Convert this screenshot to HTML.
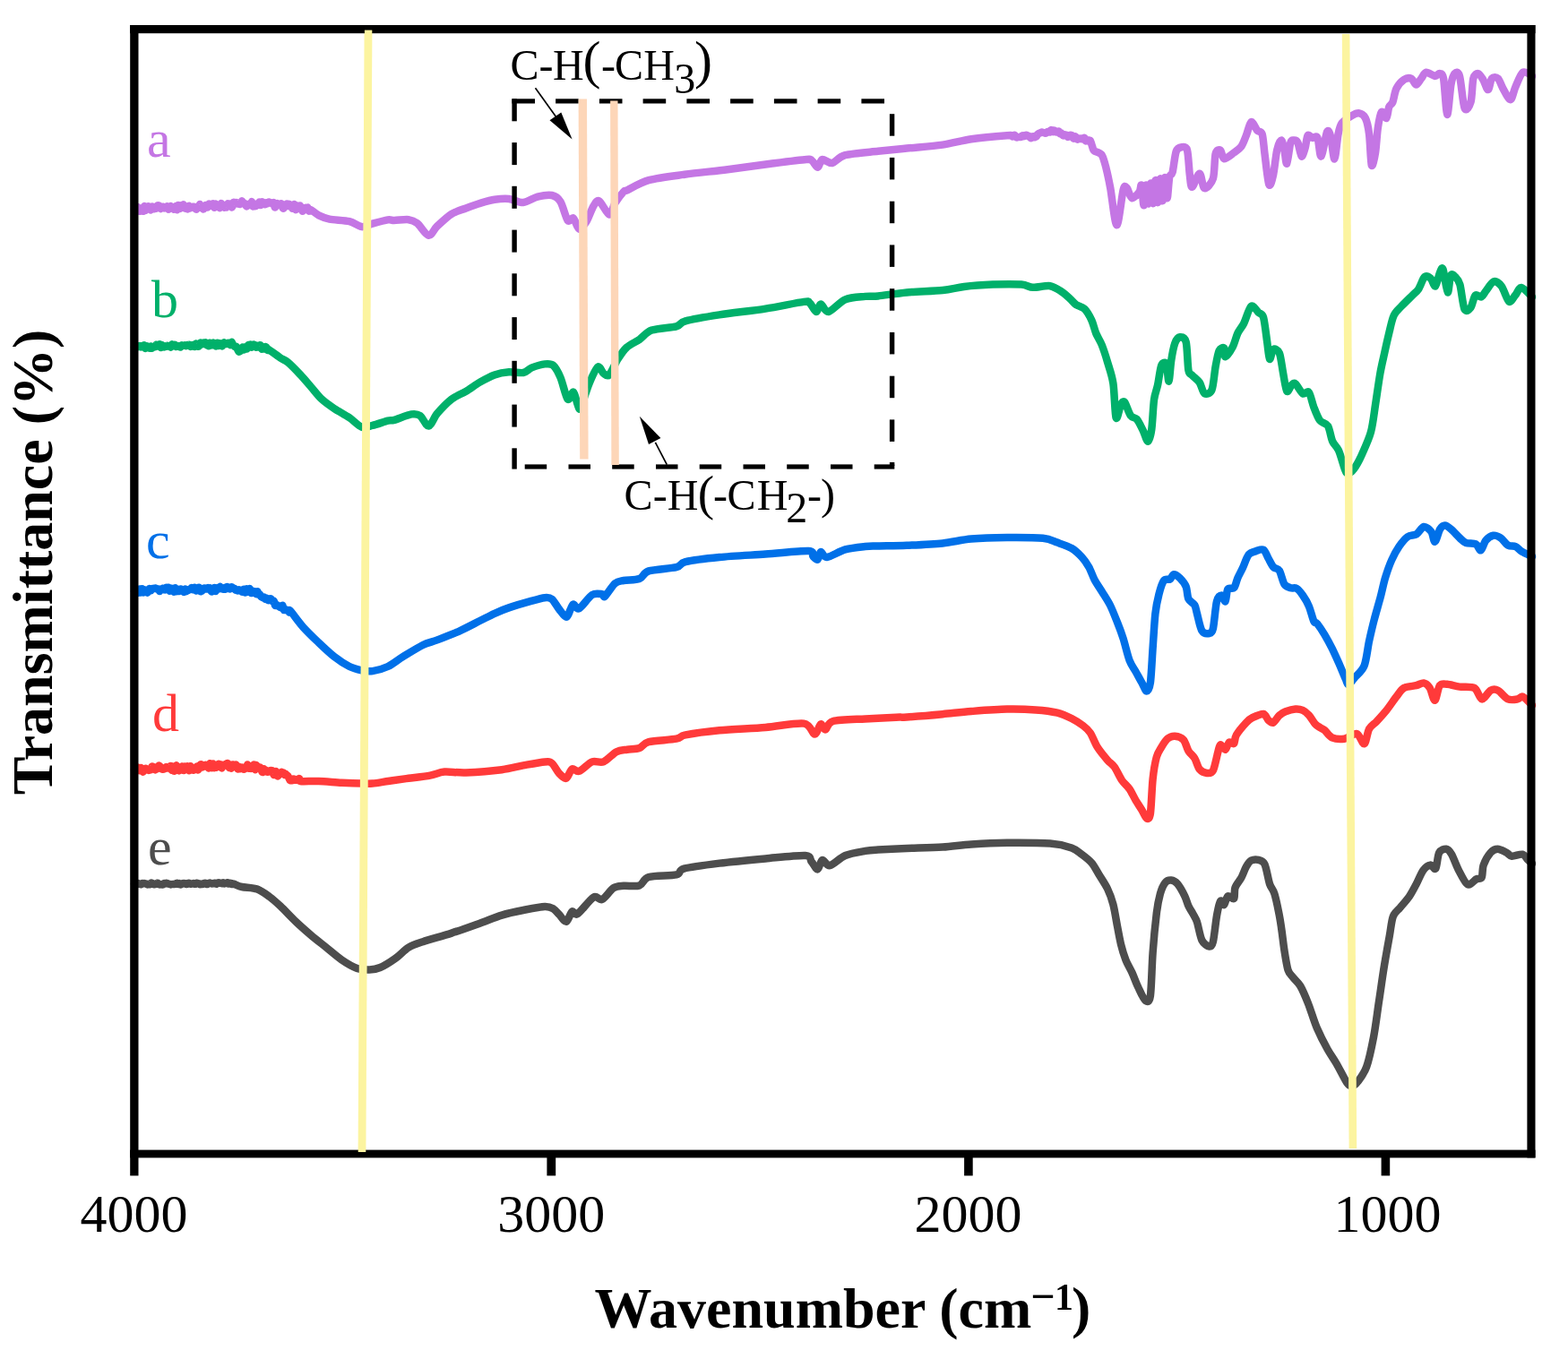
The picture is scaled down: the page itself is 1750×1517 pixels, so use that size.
<!DOCTYPE html>
<html><head><meta charset="utf-8"><title>FTIR</title>
<style>
html,body{margin:0;padding:0;background:#fff;}
body{width:1750px;height:1517px;overflow:hidden;position:relative;}
svg{position:absolute;left:0;top:0;}
text{font-family:"Liberation Serif","Times New Roman",serif;}
</style></head><body>
<svg width="1750" height="1517" viewBox="0 0 1750 1517">
<rect width="1750" height="1517" fill="#fff"/>
<g fill="none" stroke-width="8.5" stroke-linejoin="round" stroke-linecap="round">
<path d="M150.0,233.4C150.2,233.7 150.8,235.7 151.2,235.3C151.6,234.9 152.0,231.6 152.4,231.0C152.8,230.4 153.3,231.2 153.7,231.6C154.1,232.0 154.5,233.3 154.9,233.9C155.3,234.5 155.7,235.9 156.1,235.8C156.5,235.7 156.9,234.0 157.3,233.5C157.7,233.0 158.2,232.1 158.6,232.4C159.0,232.7 159.4,236.1 159.8,235.8C160.2,235.5 160.6,230.2 161.0,230.1C161.4,230.0 161.8,234.7 162.2,234.9C162.6,235.1 163.1,232.2 163.5,231.5C163.9,230.8 164.3,230.7 164.7,230.5C165.1,230.3 165.5,230.2 165.9,230.3C166.3,230.4 166.8,230.8 167.2,231.4C167.6,232.0 168.0,234.5 168.4,234.4C168.8,234.3 169.2,230.7 169.6,230.5C170.0,230.3 170.4,232.5 170.8,232.9C171.2,233.3 171.7,233.3 172.1,233.1C172.5,232.9 172.9,231.6 173.3,231.5C173.7,231.4 174.1,232.8 174.5,232.5C174.9,232.2 175.3,230.0 175.7,229.5C176.1,229.0 176.6,229.3 177.0,229.4C177.4,229.5 177.8,229.7 178.2,230.2C178.6,230.7 179.0,232.8 179.4,233.0C179.8,233.2 180.2,231.7 180.6,231.4C181.0,231.1 181.5,230.6 181.9,230.7C182.3,230.8 182.7,232.2 183.1,232.3C183.5,232.5 183.9,231.8 184.3,231.7C184.7,231.6 185.1,231.6 185.5,231.4C185.9,231.2 186.3,230.1 186.7,230.4C187.1,230.7 187.5,233.0 187.9,233.4C188.3,233.8 188.7,233.3 189.1,232.8C189.5,232.3 189.9,230.1 190.3,230.0C190.7,229.9 191.1,231.8 191.5,232.0C191.9,232.2 192.4,231.3 192.8,231.6C193.2,231.9 193.6,233.5 194.0,233.7C194.4,233.9 194.8,233.3 195.2,232.8C195.6,232.3 196.0,229.9 196.4,230.1C196.8,230.3 197.2,234.5 197.6,234.3C198.0,234.2 198.4,229.6 198.8,229.1C199.2,228.6 199.6,230.2 200.0,230.8C200.4,231.4 200.8,233.0 201.2,232.8C201.6,232.6 202.0,229.4 202.4,229.2C202.8,229.0 203.2,231.3 203.6,231.2C204.0,231.1 204.4,228.2 204.8,228.4C205.2,228.6 205.6,231.6 206.0,232.2C206.4,232.8 206.8,232.8 207.2,232.7C207.6,232.6 208.0,231.4 208.4,231.5C208.8,231.6 209.3,233.5 209.7,233.3C210.1,233.1 210.5,230.1 210.9,229.9C211.3,229.7 211.7,231.9 212.1,232.2C212.5,232.5 212.9,231.7 213.3,231.6C213.7,231.5 214.1,231.5 214.5,231.4C214.9,231.3 215.3,230.8 215.7,230.7C216.1,230.6 216.5,230.6 216.9,230.9C217.3,231.2 217.7,232.5 218.1,232.9C218.5,233.3 219.0,233.8 219.4,233.5C219.8,233.2 220.2,230.9 220.6,230.6C221.0,230.3 221.5,232.1 221.9,231.7C222.3,231.3 222.7,228.1 223.1,228.1C223.5,228.1 224.0,231.4 224.4,231.9C224.8,232.4 225.2,231.3 225.6,231.5C226.0,231.7 226.5,233.3 226.9,233.5C227.3,233.7 227.7,233.1 228.1,232.5C228.5,231.9 229.0,229.6 229.4,229.2C229.8,228.8 230.2,229.5 230.6,229.8C231.0,230.1 231.4,231.7 231.8,231.4C232.2,231.1 232.7,227.7 233.1,227.5C233.5,227.3 233.9,230.0 234.3,230.1C234.7,230.2 235.2,228.6 235.6,228.3C236.0,228.0 236.4,228.0 236.8,227.9C237.2,227.8 237.7,227.0 238.1,227.6C238.5,228.2 238.9,231.8 239.3,231.8C239.7,231.8 240.2,228.4 240.6,227.9C241.0,227.4 241.4,228.4 241.8,228.6C242.2,228.8 242.7,229.2 243.1,229.4C243.5,229.6 243.9,229.6 244.3,230.0C244.7,230.4 245.1,232.5 245.5,232.1C245.9,231.7 246.4,227.6 246.8,227.2C247.2,226.8 247.6,228.9 248.0,229.3C248.4,229.7 248.9,229.4 249.3,229.7C249.7,230.0 250.1,231.4 250.5,231.6C250.9,231.8 251.3,231.1 251.7,231.0C252.1,230.9 252.6,231.7 253.0,231.2C253.4,230.7 253.8,227.9 254.2,227.5C254.6,227.1 255.1,228.2 255.5,228.2C255.9,228.2 256.3,227.3 256.7,227.7C257.1,228.1 257.5,230.2 257.9,230.7C258.3,231.2 258.8,231.7 259.2,231.0C259.6,230.3 260.0,226.8 260.4,226.0C260.8,225.2 261.2,226.0 261.6,226.0C262.0,226.0 262.5,226.2 262.9,226.2C263.3,226.2 263.7,225.9 264.1,226.1C264.5,226.3 265.0,227.3 265.4,227.5C265.8,227.7 266.2,227.3 266.6,227.4C267.0,227.5 267.4,228.2 267.8,228.0C268.2,227.8 268.6,226.6 269.0,226.1C269.4,225.6 269.8,224.3 270.2,224.5C270.6,224.7 271.1,226.8 271.5,227.1C271.9,227.4 272.3,226.7 272.7,226.8C273.1,226.9 273.5,227.5 273.9,228.0C274.3,228.5 274.7,230.3 275.1,230.4C275.5,230.5 275.9,229.2 276.3,228.8C276.7,228.4 277.1,227.8 277.5,227.8C277.9,227.8 278.3,228.3 278.7,228.5C279.1,228.7 279.5,229.4 279.9,228.9C280.3,228.4 280.7,225.0 281.1,225.2C281.5,225.4 282.0,229.6 282.4,230.3C282.8,231.0 283.2,229.6 283.6,229.6C284.0,229.6 284.4,230.2 284.8,230.2C285.2,230.2 285.6,230.2 286.0,229.8C286.4,229.4 286.8,227.7 287.2,227.4C287.6,227.1 288.0,227.8 288.4,227.5C288.8,227.2 289.2,225.5 289.6,225.7C290.0,225.9 290.5,229.0 290.9,229.0C291.3,229.0 291.7,226.1 292.1,225.6C292.5,225.1 292.9,225.5 293.3,225.6C293.7,225.7 294.1,226.1 294.5,226.5C294.9,226.9 295.3,228.3 295.7,228.3C296.1,228.3 296.5,226.5 296.9,226.4C297.3,226.3 297.7,227.6 298.1,227.5C298.5,227.4 299.0,226.2 299.4,225.9C299.8,225.6 300.2,225.5 300.6,225.6C301.0,225.7 301.4,226.5 301.8,226.6C302.2,226.7 302.6,226.2 303.0,226.4C303.4,226.6 303.9,228.0 304.3,228.0C304.7,228.0 305.1,225.6 305.5,226.1C305.9,226.6 306.3,230.7 306.7,231.3C307.1,231.9 307.5,230.4 307.9,229.8C308.3,229.2 308.8,227.4 309.2,227.1C309.6,226.8 310.0,227.6 310.4,227.8C310.8,228.0 311.2,228.3 311.6,228.4C312.0,228.5 312.4,228.8 312.8,228.6C313.2,228.4 313.7,226.8 314.1,227.3C314.5,227.8 314.9,230.9 315.3,231.7C315.7,232.5 316.1,232.9 316.5,232.6C316.9,232.3 317.3,230.0 317.7,229.6C318.1,229.2 318.6,230.0 319.0,229.7C319.4,229.4 319.8,227.4 320.2,227.4C320.6,227.4 321.0,229.9 321.4,230.0C321.8,230.1 322.2,227.9 322.6,227.8C323.0,227.7 323.5,229.3 323.9,229.5C324.3,229.7 324.7,228.7 325.1,229.2C325.5,229.7 325.9,232.8 326.3,232.8C326.7,232.8 327.1,229.7 327.5,229.0C327.9,228.3 328.4,227.6 328.8,228.4C329.2,229.2 329.6,233.6 330.0,234.1C330.4,234.6 330.8,232.5 331.2,231.8C331.6,231.1 332.1,229.6 332.5,229.7C332.9,229.8 333.3,232.3 333.7,232.3C334.1,232.3 334.5,229.4 334.9,229.4C335.3,229.4 335.7,231.7 336.1,232.6C336.5,233.5 337.0,235.1 337.4,235.5C337.8,235.9 338.2,235.2 338.6,235.0C339.0,234.8 339.4,234.7 339.8,234.2C340.2,233.7 340.7,232.0 341.1,231.8C341.5,231.6 341.9,232.7 342.3,232.7C342.7,232.7 343.1,231.3 343.5,231.7C343.9,232.1 344.1,235.1 344.7,235.5C345.3,235.9 345.6,233.6 347.2,234.3C348.8,235.0 352.6,238.8 355.7,240.3C358.8,241.8 362.6,243.6 367.7,244.6C372.8,245.6 384.6,245.8 390.0,247.1C395.4,248.4 399.8,252.7 403.7,253.1C407.6,253.5 411.3,250.9 415.7,249.7C420.1,248.5 429.3,246.0 432.9,245.4C436.5,244.8 436.5,246.0 440.0,246.0C443.5,246.0 452.2,244.7 456.0,245.2C459.8,245.7 462.2,246.6 465.6,249.2C469.0,251.8 475.0,262.3 478.4,262.8C481.8,263.3 484.2,256.0 488.0,252.4C491.8,248.8 499.2,241.8 504.0,238.8C508.8,235.8 515.2,234.2 520.0,232.4C524.8,230.6 531.2,228.2 536.0,226.8C540.8,225.4 547.2,223.5 552.0,222.8C556.8,222.1 563.2,221.5 568.0,222.0C572.8,222.5 579.2,226.4 584.0,226.0C588.8,225.6 595.2,220.8 600.0,219.6C604.8,218.4 612.2,217.2 616.0,218.0C619.8,218.8 623.0,221.0 625.6,225.2C628.2,229.4 631.4,243.2 633.6,246.0C635.8,248.8 638.1,242.2 640.0,243.6C641.9,245.0 644.2,255.0 646.4,255.6C648.6,256.2 652.0,251.4 654.4,247.6C656.8,243.8 660.2,233.5 662.4,230.0C664.6,226.5 666.2,223.0 668.8,224.4C671.4,225.8 677.4,239.2 680.0,239.6C682.6,240.0 684.0,230.6 686.4,226.8C688.8,223.0 694.0,216.2 696.0,214.0C698.0,211.8 695.8,214.3 700.0,212.4C704.2,210.5 714.4,203.8 724.0,201.2C733.6,198.6 750.8,196.6 764.0,194.8C777.2,193.0 797.6,191.0 812.0,189.2C826.4,187.4 846.8,184.5 860.0,182.8C873.2,181.1 893.0,178.5 900.0,178.0C907.0,177.5 904.5,178.3 906.4,179.6C908.3,180.9 911.1,187.0 912.8,186.8C914.5,186.6 915.2,178.7 917.6,178.0C920.0,177.3 925.0,182.7 928.8,182.0C932.6,181.3 935.5,175.2 943.2,173.2C950.9,171.2 969.7,169.9 980.0,168.8C990.3,167.7 1001.2,166.7 1012.0,165.6C1022.8,164.5 1041.2,163.2 1052.0,161.6C1062.8,160.0 1073.2,156.8 1084.0,155.2C1094.8,153.6 1117.3,151.7 1124.0,151.2C1130.7,150.7 1128.0,151.4 1128.9,151.6C1129.8,151.8 1129.7,152.5 1130.1,152.4C1130.5,152.3 1130.9,151.3 1131.3,151.1C1131.7,150.9 1132.1,150.5 1132.5,150.8C1132.9,151.1 1133.3,152.4 1133.7,152.8C1134.1,153.2 1134.6,153.4 1135.0,153.4C1135.4,153.4 1135.8,153.1 1136.2,153.0C1136.6,152.9 1137.0,152.9 1137.4,152.9C1137.8,152.9 1138.2,153.1 1138.6,153.1C1139.0,153.1 1139.4,153.2 1139.8,152.9C1140.2,152.6 1140.6,151.4 1141.0,151.3C1141.4,151.2 1141.9,152.2 1142.3,152.3C1142.7,152.4 1143.1,152.1 1143.5,151.9C1143.9,151.7 1144.3,151.1 1144.7,150.9C1145.1,150.8 1145.5,150.8 1145.9,150.9C1146.3,151.0 1146.7,151.7 1147.1,151.8C1147.5,151.9 1147.9,151.6 1148.3,151.8C1148.7,152.0 1149.2,152.9 1149.6,153.3C1150.0,153.7 1150.4,154.3 1150.8,154.2C1151.2,154.1 1151.6,153.1 1152.0,152.8C1152.4,152.5 1152.8,152.1 1153.2,152.2C1153.6,152.3 1154.0,153.1 1154.4,153.2C1154.8,153.3 1155.2,153.0 1155.6,152.9C1156.0,152.8 1156.4,152.7 1156.8,152.3C1157.2,151.9 1157.6,150.5 1158.0,150.0C1158.4,149.5 1158.8,149.2 1159.2,149.0C1159.6,148.8 1160.0,148.8 1160.4,148.6C1160.8,148.4 1161.2,148.2 1161.6,148.0C1162.0,147.8 1162.4,147.5 1162.8,147.5C1163.2,147.5 1163.6,147.9 1164.0,148.0C1164.4,148.1 1164.9,148.1 1165.3,148.2C1165.7,148.3 1166.2,148.8 1166.6,148.8C1167.0,148.8 1167.4,148.7 1167.8,148.4C1168.2,148.1 1168.7,147.2 1169.1,147.0C1169.5,146.8 1170.0,147.2 1170.4,147.3C1170.8,147.4 1171.3,147.8 1171.7,147.5C1172.1,147.2 1172.6,145.1 1173.0,145.0C1173.4,144.9 1173.8,146.3 1174.2,146.6C1174.6,146.9 1175.1,147.3 1175.5,147.2C1175.9,147.0 1176.4,145.6 1176.8,145.6C1177.2,145.6 1177.6,146.7 1178.0,147.0C1178.4,147.3 1178.9,147.5 1179.3,147.5C1179.7,147.5 1180.1,147.2 1180.5,147.1C1180.9,147.0 1181.4,146.4 1181.8,146.7C1182.2,147.0 1182.6,149.0 1183.0,149.2C1183.4,149.4 1183.9,148.1 1184.3,148.3C1184.7,148.5 1185.1,149.8 1185.5,150.3C1185.9,150.8 1186.4,151.4 1186.8,151.4C1187.2,151.4 1187.6,150.6 1188.0,150.4C1188.4,150.2 1188.8,150.4 1189.2,150.4C1189.6,150.4 1190.1,150.3 1190.5,150.7C1190.9,151.1 1191.3,152.5 1191.7,152.8C1192.1,153.1 1192.5,152.7 1192.9,152.4C1193.3,152.1 1193.8,151.1 1194.2,150.9C1194.6,150.7 1195.0,151.0 1195.4,151.1C1195.8,151.2 1196.2,150.9 1196.6,151.4C1197.0,151.9 1197.4,153.8 1197.8,154.2C1198.2,154.6 1198.7,154.5 1199.1,154.2C1199.5,153.9 1199.9,152.2 1200.3,152.3C1200.7,152.4 1201.1,154.3 1201.5,154.8C1201.9,155.3 1202.4,155.7 1202.8,155.6C1203.2,155.5 1203.6,154.5 1204.0,154.4C1204.4,154.3 1204.9,155.1 1205.3,155.1C1205.7,155.1 1206.2,154.4 1206.6,154.4C1207.0,154.4 1207.4,155.3 1207.8,155.3C1208.2,155.3 1208.7,154.4 1209.1,154.2C1209.5,154.0 1210.0,153.5 1210.4,154.0C1210.8,154.5 1211.3,156.9 1211.7,157.3C1212.1,157.7 1212.6,156.7 1213.0,156.6C1213.4,156.5 1213.8,156.2 1214.2,156.4C1214.6,156.6 1215.1,157.8 1215.5,157.9C1215.9,158.0 1216.4,156.3 1216.8,156.8C1217.2,157.3 1217.9,160.0 1218.4,161.4C1218.9,162.8 1219.5,165.3 1220.0,166.4C1220.5,167.5 1220.0,167.5 1221.4,168.5C1222.8,169.5 1227.6,170.0 1229.6,172.8C1231.5,175.6 1233.0,181.7 1234.4,187.2C1235.8,192.7 1237.4,200.0 1239.2,209.6C1241.0,219.2 1244.2,250.9 1246.4,251.2C1248.6,251.5 1252.0,217.7 1253.7,211.5C1255.4,205.3 1256.4,208.7 1257.8,210.1C1259.2,211.5 1261.2,220.5 1263.3,221.1C1265.4,221.7 1269.9,216.4 1271.5,214.3C1273.1,212.2 1273.2,204.6 1274.0,206.8C1274.8,209.1 1275.8,229.3 1276.6,229.3C1277.4,229.3 1278.4,206.8 1279.2,206.5C1280.0,206.2 1281.0,227.7 1281.8,227.4C1282.6,227.1 1283.6,204.5 1284.4,204.5C1285.2,204.5 1286.2,227.6 1287.0,227.1C1287.8,226.6 1288.8,201.2 1289.6,201.1C1290.4,200.9 1291.4,226.4 1292.2,226.1C1293.0,225.8 1294.0,199.7 1294.8,199.4C1295.6,199.1 1296.6,224.4 1297.4,224.2C1298.2,224.0 1299.2,198.4 1300.0,198.0C1300.8,197.6 1301.8,221.3 1302.6,221.3C1303.4,221.3 1304.3,202.2 1305.2,197.8C1306.1,193.5 1307.5,196.6 1308.6,192.3C1309.7,188.0 1311.2,173.2 1312.7,169.0C1314.2,164.8 1317.1,164.4 1318.9,164.2C1320.7,164.0 1323.7,163.0 1325.0,167.6C1326.3,172.2 1327.0,188.8 1327.8,195.0C1328.6,201.2 1328.8,209.0 1330.5,208.8C1332.2,208.6 1336.7,193.5 1338.8,193.7C1340.9,193.9 1342.0,209.3 1344.3,210.1C1346.6,210.9 1352.1,205.0 1353.9,199.2C1355.7,193.4 1355.4,176.4 1356.6,171.7C1357.8,167.0 1360.7,166.8 1362.1,167.6C1363.5,168.4 1363.9,176.8 1366.2,177.2C1368.5,177.6 1374.3,172.5 1377.2,170.4C1380.1,168.3 1383.3,166.4 1385.4,163.5C1387.5,160.6 1389.2,155.3 1390.9,151.2C1392.6,147.1 1394.6,136.9 1396.4,136.1C1398.2,135.3 1401.4,143.6 1403.2,145.7C1405.0,147.8 1407.5,145.9 1408.7,149.8C1409.9,153.7 1410.4,163.3 1411.5,171.7C1412.6,180.1 1414.9,202.5 1416.3,206.0C1417.7,209.5 1419.8,200.8 1421.1,195.0C1422.4,189.2 1423.9,173.4 1425.2,167.6C1426.5,161.8 1428.8,156.6 1430.0,156.6C1431.2,156.6 1432.5,163.7 1433.4,167.6C1434.3,171.5 1435.2,183.9 1436.2,182.7C1437.2,181.5 1439.1,163.3 1440.3,159.4C1441.5,155.5 1443.2,156.6 1444.4,156.6C1445.6,156.6 1447.3,156.7 1448.5,159.4C1449.7,162.1 1451.4,173.7 1452.6,174.5C1453.8,175.3 1455.7,168.4 1456.7,164.9C1457.7,161.4 1458.3,152.8 1459.5,151.2C1460.7,149.5 1463.3,153.5 1465.0,153.9C1466.7,154.3 1469.1,150.8 1470.5,153.9C1471.9,157.0 1472.9,175.5 1474.5,174.5C1476.1,173.5 1479.5,150.4 1481.1,147.1C1482.7,143.8 1484.0,148.1 1485.2,152.7C1486.4,157.3 1488.2,177.9 1489.4,177.5C1490.6,177.1 1492.3,155.9 1493.5,149.9C1494.7,143.9 1495.4,140.5 1497.7,137.4C1500.0,134.3 1505.8,130.8 1508.7,129.1C1511.6,127.4 1514.7,126.0 1517.0,126.4C1519.3,126.8 1522.2,128.4 1523.9,131.9C1525.6,135.4 1527.1,142.0 1528.1,149.9C1529.1,157.8 1529.8,181.4 1530.8,184.5C1531.8,187.6 1534.0,176.8 1535.0,170.6C1536.0,164.4 1536.8,149.8 1537.8,143.0C1538.8,136.2 1540.5,126.7 1541.9,125.0C1543.3,123.3 1546.2,132.7 1547.4,131.9C1548.6,131.1 1549.2,122.2 1550.2,119.5C1551.2,116.8 1553.2,117.0 1554.4,113.9C1555.6,110.8 1556.6,102.4 1558.5,98.7C1560.4,95.0 1564.3,90.7 1566.8,89.0C1569.3,87.3 1573.0,86.9 1575.1,87.7C1577.2,88.5 1578.9,94.6 1580.6,94.6C1582.3,94.6 1584.5,89.8 1586.2,87.7C1587.9,85.6 1589.4,81.1 1591.7,80.7C1594.0,80.3 1599.1,84.7 1601.4,84.9C1603.7,85.1 1605.4,81.7 1606.9,82.1C1608.4,82.5 1609.9,80.8 1611.1,87.7C1612.3,94.6 1614.0,126.8 1615.2,127.8C1616.4,128.8 1618.2,101.5 1619.4,94.6C1620.6,87.7 1622.1,83.6 1623.5,82.1C1624.9,80.6 1627.3,79.1 1629.0,84.9C1630.7,90.7 1632.7,116.5 1634.6,120.8C1636.5,125.1 1640.0,118.9 1641.5,113.9C1643.0,108.9 1643.1,92.5 1644.3,87.7C1645.5,82.9 1648.1,81.9 1649.8,82.1C1651.5,82.3 1653.6,86.3 1655.3,89.0C1657.0,91.7 1659.3,100.3 1660.8,100.1C1662.3,99.9 1663.3,89.6 1665.0,87.7C1666.7,85.8 1670.0,86.0 1671.9,87.7C1673.8,89.4 1675.3,95.2 1677.4,98.7C1679.5,102.2 1683.6,111.4 1685.7,111.2C1687.8,111.0 1689.2,101.9 1691.3,97.3C1693.4,92.7 1696.8,82.6 1699.6,80.7C1702.4,78.8 1708.4,84.3 1710.0,84.9" stroke="#c476e4"/>
<path d="M150.0,387.4C150.2,387.6 150.8,389.0 151.2,388.8C151.6,388.6 152.0,386.5 152.4,386.1C152.8,385.7 153.3,386.2 153.7,386.2C154.1,386.2 154.5,386.4 154.9,386.4C155.3,386.4 155.7,385.9 156.1,386.1C156.5,386.3 156.9,387.6 157.3,387.6C157.7,387.6 158.2,386.2 158.6,386.1C159.0,386.0 159.4,386.9 159.8,386.8C160.2,386.7 160.6,385.2 161.0,385.5C161.4,385.8 161.8,388.8 162.2,388.9C162.6,389.0 163.1,386.7 163.5,386.4C163.9,386.1 164.3,386.8 164.7,386.9C165.1,387.0 165.5,387.1 165.9,387.4C166.3,387.7 166.8,388.9 167.2,388.8C167.6,388.7 168.0,386.6 168.4,386.6C168.8,386.6 169.2,388.8 169.6,388.8C170.0,388.8 170.4,387.2 170.8,386.9C171.2,386.6 171.7,387.0 172.1,387.0C172.5,387.0 172.9,387.3 173.3,387.0C173.7,386.7 174.1,384.8 174.5,384.7C174.9,384.6 175.3,386.4 175.7,386.5C176.1,386.6 176.6,385.7 177.0,385.4C177.4,385.1 177.8,384.2 178.2,384.6C178.6,385.0 179.0,387.9 179.4,388.0C179.8,388.1 180.2,385.4 180.6,385.2C181.0,385.0 181.5,386.1 181.9,386.5C182.3,386.9 182.7,387.6 183.1,387.6C183.5,387.6 183.9,386.7 184.3,386.6C184.7,386.5 185.1,386.9 185.5,386.8C185.9,386.7 186.4,385.7 186.8,385.7C187.2,385.7 187.6,386.4 188.0,386.5C188.4,386.6 188.8,386.5 189.2,386.6C189.6,386.8 190.1,387.8 190.5,387.5C190.9,387.2 191.3,384.7 191.7,384.5C192.1,384.3 192.5,386.3 192.9,386.4C193.3,386.5 193.8,385.1 194.2,384.9C194.6,384.7 195.0,384.7 195.4,385.0C195.8,385.3 196.2,387.0 196.6,387.1C197.0,387.2 197.5,386.0 197.9,385.9C198.3,385.8 198.7,386.0 199.1,386.1C199.5,386.2 199.9,386.7 200.3,386.9C200.7,387.1 201.1,387.7 201.5,387.5C201.9,387.3 202.4,385.5 202.8,385.3C203.2,385.1 203.6,386.0 204.0,386.0C204.4,386.0 204.8,385.6 205.2,385.5C205.6,385.4 206.1,385.3 206.5,385.4C206.9,385.5 207.3,386.3 207.7,386.2C208.1,386.1 208.5,385.1 208.9,385.0C209.3,384.9 209.8,385.3 210.2,385.3C210.6,385.3 211.0,384.7 211.4,385.0C211.8,385.3 212.2,386.9 212.6,387.0C213.0,387.1 213.5,386.1 213.9,385.8C214.3,385.5 214.7,384.8 215.1,384.9C215.5,385.0 215.9,386.2 216.3,386.5C216.7,386.8 217.1,387.2 217.5,386.8C217.9,386.4 218.3,384.0 218.7,383.7C219.1,383.4 219.5,384.6 219.9,385.0C220.3,385.4 220.7,386.4 221.1,386.6C221.5,386.8 221.9,386.6 222.3,386.1C222.7,385.6 223.1,383.5 223.5,383.0C223.9,382.5 224.3,382.7 224.7,382.9C225.1,383.1 225.5,384.2 225.9,384.2C226.3,384.2 226.7,382.7 227.1,382.6C227.5,382.5 227.9,383.3 228.3,383.3C228.7,383.3 229.1,382.2 229.5,382.5C229.9,382.8 230.3,384.7 230.7,385.1C231.1,385.6 231.5,385.4 231.9,385.5C232.3,385.6 232.7,386.4 233.1,386.0C233.5,385.6 233.9,382.8 234.3,382.7C234.7,382.6 235.1,384.8 235.5,385.1C235.9,385.4 236.3,385.2 236.7,384.8C237.1,384.4 237.5,382.6 237.9,382.5C238.3,382.4 238.7,383.5 239.1,384.0C239.5,384.5 239.9,385.4 240.3,385.7C240.7,386.0 241.1,386.5 241.5,386.1C241.9,385.7 242.3,382.8 242.7,382.8C243.1,382.8 243.5,385.9 243.9,386.0C244.3,386.1 244.8,383.9 245.2,383.6C245.6,383.3 246.0,383.5 246.4,383.9C246.8,384.3 247.2,386.0 247.6,386.2C248.0,386.4 248.4,386.1 248.8,385.5C249.2,384.9 249.6,382.8 250.0,382.5C250.4,382.2 250.8,383.5 251.2,383.7C251.6,383.9 252.0,384.2 252.4,384.1C252.8,384.0 253.2,383.5 253.6,383.3C254.0,383.1 254.5,382.7 254.9,382.7C255.3,382.7 255.7,382.9 256.1,383.2C256.5,383.5 256.9,385.2 257.3,385.0C257.7,384.8 258.1,382.0 258.5,381.9C258.9,381.8 259.3,383.4 259.7,384.0C260.1,384.6 260.7,385.5 261.1,386.0C261.5,386.5 262.1,387.1 262.5,387.2C262.9,387.3 263.4,386.6 263.8,387.0C264.2,387.4 264.8,389.3 265.2,390.1C265.6,390.9 266.2,392.3 266.6,392.6C267.0,392.9 267.6,392.4 268.0,392.1C268.4,391.8 268.9,391.3 269.3,390.6C269.7,389.9 270.3,387.6 270.7,387.6C271.1,387.6 271.6,390.6 272.0,390.6C272.4,390.6 273.0,387.7 273.4,387.4C273.8,387.1 274.2,388.2 274.6,388.5C275.0,388.8 275.5,389.7 275.9,389.2C276.3,388.7 276.7,385.7 277.1,385.2C277.5,384.7 278.0,385.9 278.4,385.8C278.8,385.7 279.2,384.3 279.6,384.6C280.0,384.9 280.5,387.6 280.9,387.7C281.3,387.8 281.7,385.8 282.1,385.3C282.5,384.8 283.0,384.4 283.4,384.5C283.8,384.6 284.2,385.2 284.6,385.7C285.0,386.2 285.5,387.7 285.9,387.7C286.3,387.7 286.7,385.7 287.1,385.7C287.5,385.7 288.0,387.6 288.4,387.6C288.8,387.6 289.2,385.9 289.6,385.6C290.0,385.3 290.5,385.0 290.9,385.6C291.3,386.2 291.7,389.0 292.1,389.4C292.5,389.8 293.0,388.4 293.4,388.4C293.8,388.4 294.2,389.6 294.6,389.4C295.0,389.2 295.5,387.5 295.9,387.2C296.3,386.9 296.7,387.0 297.1,387.5C297.5,388.0 298.0,390.4 298.4,390.8C298.8,391.2 299.2,390.1 299.6,390.1C300.0,390.1 298.9,389.5 300.9,390.9C302.9,392.3 309.8,397.3 312.9,399.4C316.0,401.5 318.1,401.8 321.4,404.6C324.7,407.4 331.3,414.2 335.2,418.3C339.1,422.4 343.6,427.9 347.2,432.0C350.8,436.1 355.3,442.1 359.2,445.7C363.1,449.3 368.3,452.9 372.9,456.0C377.5,459.1 385.4,463.2 390.0,466.3C394.6,469.4 399.8,475.3 403.7,476.6C407.6,477.9 411.3,475.9 415.7,474.9C420.1,473.9 429.3,470.6 432.9,469.7C436.5,468.8 436.1,469.9 440.0,468.8C443.9,467.7 454.9,463.1 459.2,462.4C463.5,461.7 465.9,462.0 468.8,464.0C471.7,466.0 475.5,475.9 478.4,475.5C481.3,475.1 484.2,466.1 488.0,461.6C491.8,457.1 499.2,449.3 504.0,445.6C508.8,441.9 515.2,439.7 520.0,436.8C524.8,433.9 531.2,429.2 536.0,426.4C540.8,423.6 547.2,420.1 552.0,418.4C556.8,416.7 563.2,415.6 568.0,415.2C572.8,414.8 580.2,416.7 584.0,416.0C587.8,415.3 590.0,411.8 593.6,410.4C597.2,409.0 604.4,406.8 608.0,406.4C611.6,406.0 615.0,405.7 617.6,408.0C620.2,410.3 623.2,416.0 625.6,421.6C628.0,427.2 631.4,443.2 633.6,445.6C635.8,448.0 638.3,436.6 640.0,437.6C641.7,438.6 643.6,449.4 644.8,452.0C646.0,454.6 646.1,458.8 648.0,455.2C649.9,451.6 654.7,434.8 657.6,428.0C660.5,421.2 664.8,411.3 667.2,409.6C669.6,407.9 671.7,415.5 673.6,416.8C675.5,418.1 677.6,420.8 680.0,418.4C682.4,416.0 686.7,405.4 689.6,400.8C692.5,396.2 695.6,391.3 699.2,388.0C702.8,384.7 709.5,381.8 713.7,378.9C717.9,376.0 721.2,370.8 727.4,368.6C733.6,366.4 749.2,365.8 754.9,364.3C760.6,362.8 757.9,360.2 765.1,358.3C772.3,356.4 789.5,353.5 802.9,351.4C816.3,349.3 840.2,346.8 854.3,344.6C868.4,342.4 889.7,337.8 897.2,336.9C904.7,336.0 901.9,336.9 904.0,338.6C906.1,340.3 909.1,347.9 910.9,348.0C912.7,348.1 913.9,339.4 916.0,339.4C918.1,339.4 920.5,348.8 924.6,348.0C928.7,347.2 937.2,336.9 943.4,334.3C949.6,331.7 960.2,331.5 965.7,330.9C971.2,330.3 973.1,331.1 980.0,330.4C986.9,329.7 1001.2,327.4 1012.0,326.4C1022.8,325.4 1042.4,325.0 1052.0,324.0C1061.6,323.0 1067.6,321.0 1076.0,320.0C1084.4,319.0 1098.4,318.0 1108.0,317.6C1117.6,317.2 1133.3,317.1 1140.0,317.6C1146.7,318.1 1148.0,320.6 1152.8,320.8C1157.6,321.0 1167.2,318.5 1172.0,319.2C1176.8,319.9 1181.4,323.4 1184.8,325.6C1188.2,327.8 1192.0,331.4 1194.4,333.6C1196.8,335.8 1198.4,338.3 1200.8,340.0C1203.2,341.7 1207.8,342.2 1210.4,344.8C1213.0,347.4 1216.5,353.5 1218.4,357.6C1220.3,361.7 1221.5,367.9 1223.2,372.0C1224.9,376.1 1227.7,380.0 1229.6,384.8C1231.5,389.6 1234.1,397.5 1236.0,404.0C1237.9,410.5 1241.0,418.6 1242.4,428.0C1243.8,437.4 1244.3,462.8 1245.6,466.4C1246.9,470.0 1249.6,454.3 1251.0,451.7C1252.4,449.1 1253.5,447.1 1255.1,448.9C1256.7,450.7 1259.8,461.1 1261.9,464.0C1264.0,466.9 1266.7,465.6 1268.8,468.1C1270.9,470.6 1273.8,476.8 1275.7,480.5C1277.6,484.2 1279.8,493.0 1281.2,492.8C1282.6,492.6 1284.3,486.1 1285.3,479.1C1286.3,472.1 1287.0,453.6 1288.0,446.2C1289.0,438.8 1290.9,435.5 1292.1,429.7C1293.3,423.9 1294.8,411.3 1296.2,407.8C1297.6,404.3 1300.5,403.7 1301.7,406.4C1302.9,409.1 1303.7,426.2 1304.5,425.6C1305.3,425.0 1306.2,408.7 1307.2,402.3C1308.2,395.9 1309.9,387.0 1311.3,383.1C1312.7,379.2 1314.9,376.4 1316.8,376.2C1318.7,376.0 1322.3,376.1 1323.7,381.7C1325.1,387.3 1325.4,407.7 1326.4,413.3C1327.4,418.9 1328.6,416.7 1330.5,418.8C1332.4,420.9 1336.7,423.9 1338.8,427.0C1340.9,430.1 1342.2,438.1 1344.3,439.3C1346.4,440.5 1350.7,439.7 1352.5,435.2C1354.3,430.7 1355.4,415.8 1356.6,409.2C1357.8,402.6 1359.3,394.4 1360.7,391.3C1362.1,388.2 1365.2,387.6 1366.2,388.6C1367.2,389.6 1366.2,398.4 1367.6,398.2C1369.0,398.0 1373.7,391.1 1375.8,387.2C1377.9,383.3 1379.5,376.0 1381.3,372.1C1383.1,368.2 1385.8,365.7 1388.1,361.2C1390.4,356.7 1393.9,343.8 1396.4,341.9C1398.9,340.0 1402.5,346.9 1404.6,348.8C1406.7,350.7 1408.7,349.4 1410.1,354.3C1411.5,359.2 1413.2,374.7 1414.2,381.7C1415.2,388.7 1416.0,399.7 1417.0,400.9C1418.0,402.1 1419.5,391.0 1421.1,390.0C1422.7,389.0 1426.3,390.2 1427.9,394.1C1429.5,398.0 1430.8,409.6 1432.0,416.0C1433.2,422.4 1434.8,434.5 1436.2,436.6C1437.6,438.7 1440.2,430.9 1441.6,429.7C1443.0,428.5 1443.9,427.0 1445.8,428.4C1447.7,429.8 1451.7,437.9 1454.0,439.3C1456.3,440.7 1459.1,435.7 1460.9,438.0C1462.7,440.3 1464.5,449.7 1466.3,454.4C1468.1,459.1 1470.8,466.4 1473.2,469.5C1475.6,472.6 1479.9,471.9 1482.0,475.4C1484.1,478.8 1485.3,488.4 1487.1,492.5C1488.9,496.6 1491.9,498.2 1494.0,502.8C1496.1,507.4 1499.3,519.5 1500.8,523.4C1502.3,527.3 1502.8,528.5 1504.3,528.5C1505.8,528.5 1508.8,526.5 1511.1,523.4C1513.4,520.3 1516.9,514.1 1519.7,507.9C1522.5,501.7 1527.7,490.7 1530.0,482.2C1532.3,473.7 1533.6,461.2 1535.1,451.4C1536.6,441.6 1538.8,425.8 1540.3,417.1C1541.8,408.4 1543.9,400.0 1545.4,393.1C1546.9,386.2 1549.0,377.0 1550.5,370.8C1552.0,364.6 1553.6,356.4 1555.7,352.0C1557.8,347.6 1561.2,345.0 1564.3,341.7C1567.4,338.4 1573.5,332.5 1576.3,329.7C1579.1,326.9 1581.0,325.9 1583.1,322.8C1585.2,319.7 1587.9,310.9 1590.0,309.1C1592.1,307.3 1595.0,309.3 1596.8,310.8C1598.6,312.3 1600.5,320.4 1602.0,319.4C1603.5,318.4 1605.8,306.8 1607.1,304.0C1608.4,301.2 1609.2,297.3 1610.5,300.6C1611.8,303.9 1614.4,325.3 1615.7,326.3C1617.0,327.3 1617.8,310.0 1619.1,307.4C1620.4,304.8 1622.7,307.6 1624.2,309.1C1625.7,310.6 1627.9,312.3 1629.4,317.7C1630.9,323.1 1632.7,341.2 1634.5,345.1C1636.3,349.0 1639.6,345.7 1641.4,343.4C1643.2,341.1 1644.7,331.5 1646.5,329.7C1648.3,327.9 1651.6,332.2 1653.4,331.4C1655.2,330.6 1656.4,327.2 1658.5,324.6C1660.6,322.0 1664.5,315.1 1667.1,314.3C1669.7,313.5 1673.1,316.1 1675.7,319.4C1678.3,322.7 1681.9,335.1 1684.2,336.6C1686.5,338.1 1689.0,332.0 1691.1,329.7C1693.2,327.4 1695.1,320.8 1697.9,321.1C1700.7,321.4 1708.2,329.9 1710.0,331.4" stroke="#00b06a"/>
<path d="M150.0,660.0C150.2,659.7 150.8,657.4 151.2,657.7C151.6,658.0 152.0,661.8 152.4,662.2C152.8,662.6 153.3,660.6 153.7,660.5C154.1,660.4 154.5,661.8 154.9,661.3C155.3,660.8 155.7,657.5 156.1,657.5C156.5,657.5 156.9,661.5 157.3,661.5C157.7,661.5 158.2,657.3 158.6,657.3C159.0,657.3 159.4,661.1 159.8,661.4C160.2,661.7 160.6,659.6 161.0,659.2C161.4,658.8 161.8,658.5 162.2,658.6C162.6,658.7 163.1,659.2 163.5,659.6C163.9,660.0 164.3,661.7 164.7,661.5C165.1,661.3 165.5,658.6 165.9,658.0C166.3,657.4 166.8,657.0 167.2,657.2C167.6,657.4 168.0,659.1 168.4,659.2C168.8,659.3 169.2,658.0 169.6,657.7C170.0,657.4 170.4,657.0 170.8,656.9C171.2,656.8 171.7,657.2 172.1,657.1C172.5,657.0 172.9,656.5 173.3,656.5C173.7,656.5 174.1,657.0 174.5,657.2C174.9,657.4 175.3,657.6 175.7,657.7C176.1,657.8 176.6,657.4 177.0,657.7C177.4,658.0 177.8,660.0 178.2,660.0C178.6,660.0 179.0,657.7 179.4,657.5C179.8,657.3 180.2,658.6 180.6,658.5C181.0,658.4 181.5,656.8 181.9,656.7C182.3,656.6 182.7,657.4 183.1,657.6C183.5,657.8 183.9,658.6 184.3,658.3C184.7,658.0 185.1,656.0 185.5,655.8C185.9,655.6 186.4,657.0 186.8,657.0C187.2,657.0 187.6,655.4 188.0,655.8C188.4,656.2 188.8,659.1 189.2,659.5C189.6,659.9 190.1,659.0 190.5,658.6C190.9,658.2 191.3,656.8 191.7,656.7C192.1,656.6 192.5,657.6 192.9,658.2C193.3,658.8 193.8,660.9 194.2,660.6C194.6,660.3 195.0,656.4 195.4,656.3C195.8,656.2 196.2,659.8 196.6,660.0C197.0,660.2 197.5,658.2 197.9,657.9C198.3,657.6 198.7,658.0 199.1,658.3C199.5,658.6 199.9,660.1 200.3,660.0C200.7,659.9 201.1,658.0 201.5,657.7C201.9,657.4 202.4,658.1 202.8,658.3C203.2,658.5 203.6,658.9 204.0,659.3C204.4,659.7 204.8,661.1 205.2,660.8C205.6,660.5 206.1,657.6 206.5,657.5C206.9,657.4 207.3,659.7 207.7,660.0C208.1,660.3 208.5,659.5 208.9,659.4C209.3,659.2 209.8,659.2 210.2,659.0C210.6,658.8 211.0,658.0 211.4,657.8C211.8,657.6 212.2,657.8 212.6,657.5C213.0,657.2 213.5,655.9 213.9,656.0C214.3,656.1 214.7,658.3 215.1,658.3C215.5,658.3 215.9,656.6 216.3,656.3C216.7,656.0 217.1,655.5 217.5,656.0C217.9,656.5 218.4,659.3 218.8,659.4C219.2,659.5 219.6,657.4 220.0,656.9C220.4,656.4 220.8,656.5 221.2,656.4C221.6,656.2 222.0,655.4 222.4,655.9C222.8,656.4 223.2,659.2 223.6,659.8C224.0,660.4 224.4,660.0 224.8,659.9C225.2,659.8 225.7,659.3 226.1,658.8C226.5,658.3 226.9,657.1 227.3,656.8C227.7,656.5 228.1,656.5 228.5,656.5C228.9,656.5 229.3,656.6 229.7,656.8C230.1,657.0 230.5,657.7 230.9,657.6C231.3,657.5 231.7,656.0 232.1,656.0C232.5,656.0 232.9,657.4 233.3,657.5C233.7,657.6 234.2,656.1 234.6,656.5C235.0,656.9 235.4,659.6 235.8,660.1C236.2,660.6 236.6,660.4 237.0,660.1C237.4,659.8 237.8,658.4 238.2,657.8C238.6,657.2 239.0,655.9 239.4,656.2C239.8,656.5 240.3,659.9 240.7,659.9C241.1,659.9 241.5,657.0 241.9,656.5C242.3,656.0 242.7,656.6 243.1,656.7C243.5,656.8 243.9,657.7 244.3,657.4C244.7,657.1 245.1,655.0 245.5,654.9C245.9,654.8 246.4,656.5 246.8,656.9C247.2,657.3 247.6,657.3 248.0,657.4C248.4,657.5 248.9,657.8 249.3,657.6C249.7,657.4 250.1,656.1 250.5,656.1C250.9,656.1 251.3,657.8 251.7,657.7C252.1,657.6 252.6,655.4 253.0,655.2C253.4,655.0 253.8,656.5 254.2,656.6C254.6,656.7 255.1,655.6 255.5,655.7C255.9,655.8 256.3,657.4 256.7,657.4C257.1,657.4 257.5,655.9 257.9,655.6C258.3,655.3 258.8,655.3 259.2,655.5C259.6,655.7 260.0,656.8 260.4,657.0C260.8,657.2 261.2,656.5 261.6,656.7C262.0,656.9 262.5,658.3 262.9,658.6C263.3,658.9 263.7,658.2 264.1,658.4C264.5,658.5 265.0,659.6 265.4,659.6C265.8,659.6 266.2,658.4 266.6,658.3C267.0,658.2 267.4,659.0 267.8,659.2C268.2,659.4 268.6,659.5 269.0,659.7C269.4,659.9 269.9,660.8 270.3,660.6C270.7,660.4 271.1,658.6 271.5,658.2C271.9,657.8 272.3,657.5 272.7,658.0C273.1,658.5 273.5,661.6 273.9,661.5C274.3,661.4 274.7,657.5 275.1,657.3C275.5,657.1 276.0,660.0 276.4,660.4C276.8,660.8 277.2,660.6 277.6,660.1C278.0,659.6 278.4,656.9 278.8,657.1C279.2,657.3 279.6,660.7 280.0,661.4C280.4,662.1 280.9,661.9 281.3,661.8C281.7,661.7 282.1,660.8 282.5,660.5C282.9,660.2 283.3,659.8 283.7,660.0C284.1,660.2 284.5,661.4 284.9,661.9C285.3,662.4 285.8,663.3 286.2,663.0C286.6,662.7 287.0,660.2 287.4,660.2C287.8,660.2 288.3,662.4 288.7,662.9C289.1,663.4 289.5,663.0 289.9,663.5C290.3,664.0 290.8,665.4 291.2,665.9C291.6,666.4 292.0,666.3 292.4,666.5C292.8,666.7 293.3,667.3 293.7,667.3C294.1,667.3 294.5,666.4 294.9,666.7C295.3,667.0 295.8,668.9 296.2,669.0C296.6,669.1 297.0,667.6 297.4,667.7C297.8,667.8 298.2,669.0 298.6,669.4C299.0,669.8 299.4,670.3 299.8,670.2C300.2,670.1 300.6,668.9 301.0,668.6C301.4,668.3 301.8,668.1 302.2,668.3C302.6,668.4 303.0,669.1 303.4,669.6C303.8,670.1 304.2,671.4 304.6,671.6C305.0,671.8 305.4,670.4 305.8,671.0C306.2,671.6 306.6,675.0 307.0,675.6C307.4,676.2 307.8,674.9 308.2,674.9C308.6,674.9 309.0,675.1 309.4,675.4C309.8,675.7 310.2,676.4 310.6,676.7C311.0,677.0 311.4,677.1 311.8,677.3C312.2,677.5 312.6,678.0 313.0,678.1C313.4,678.2 313.8,678.0 314.2,677.7C314.6,677.4 315.0,675.4 315.4,675.8C315.8,676.2 316.2,679.7 316.6,680.5C317.0,681.3 317.4,680.9 317.8,680.9C318.2,680.9 318.6,680.2 319.0,680.2C319.4,680.2 319.8,680.8 320.2,681.0C320.6,681.2 321.0,681.0 321.4,681.4C321.8,681.8 322.2,683.5 322.6,683.6C323.0,683.7 321.5,679.3 323.9,681.8C326.3,684.3 333.8,695.0 338.6,700.3C343.4,705.6 350.6,712.5 355.7,717.4C360.8,722.3 367.8,728.9 372.9,732.9C378.0,736.9 385.4,741.7 390.0,744.0C394.6,746.3 399.8,747.5 403.7,748.3C407.6,749.1 411.3,749.7 415.7,749.1C420.1,748.5 427.8,746.4 432.9,744.0C438.0,741.6 444.1,736.5 450.0,732.9C455.9,729.3 466.3,722.8 472.0,720.0C477.7,717.2 482.0,716.7 488.0,714.4C494.0,712.1 504.8,708.0 512.0,704.8C519.2,701.6 530.0,695.8 536.0,692.8C542.0,689.8 547.2,687.0 552.0,684.8C556.8,682.6 562.0,680.4 568.0,678.4C574.0,676.4 586.0,672.9 592.0,671.2C598.0,669.5 604.4,667.6 608.0,667.2C611.6,666.8 613.6,666.9 616.0,668.8C618.4,670.7 621.6,677.0 624.0,680.0C626.4,683.0 630.1,688.8 632.0,688.8C633.9,688.8 635.6,682.2 636.8,680.0C638.0,677.8 638.6,674.5 640.0,674.4C641.4,674.3 643.3,680.8 646.4,679.2C649.5,677.6 657.0,666.4 660.8,664.0C664.6,661.6 669.8,663.0 672.0,663.2C674.2,663.4 673.0,667.4 675.2,665.6C677.4,663.8 683.3,653.8 686.4,651.2C689.5,648.6 691.9,648.8 696.0,648.0C700.1,647.2 709.5,647.6 713.7,646.0C717.9,644.4 717.8,639.3 724.0,637.4C730.2,635.5 748.7,634.6 754.9,633.1C761.1,631.6 757.9,628.8 765.1,627.1C772.3,625.4 789.5,623.3 802.9,622.0C816.3,620.7 839.4,619.6 854.3,618.6C869.2,617.6 894.3,614.7 902.3,615.1C910.3,615.5 905.9,619.7 907.4,621.1C908.9,622.5 911.3,625.4 912.6,624.6C913.9,623.8 914.5,616.4 916.0,616.0C917.5,615.6 918.8,622.4 922.9,622.0C927.0,621.6 937.0,615.2 943.4,613.4C949.8,611.6 960.2,610.6 965.7,610.0C971.2,609.4 973.1,609.7 980.0,609.5C986.9,609.3 1001.2,609.3 1012.0,608.8C1022.8,608.3 1041.2,607.5 1052.0,606.4C1062.8,605.3 1073.2,602.6 1084.0,601.6C1094.8,600.6 1112.0,600.1 1124.0,600.0C1136.0,599.9 1155.6,600.0 1164.0,600.8C1172.4,601.6 1175.2,603.9 1180.0,605.6C1184.8,607.3 1191.9,609.6 1196.0,612.0C1200.1,614.4 1204.3,618.5 1207.2,621.6C1210.1,624.7 1213.0,629.0 1215.2,632.8C1217.4,636.6 1219.4,643.1 1221.6,647.2C1223.8,651.3 1227.0,655.7 1229.6,660.0C1232.2,664.3 1236.6,670.7 1239.2,676.0C1241.8,681.3 1245.0,689.7 1247.2,695.2C1249.4,700.7 1251.6,706.5 1253.6,712.8C1255.6,719.1 1258.5,731.7 1260.6,737.2C1262.7,742.7 1265.3,745.8 1267.4,749.5C1269.5,753.2 1272.4,758.6 1274.3,761.9C1276.2,765.2 1278.4,771.5 1279.8,771.5C1281.2,771.5 1282.9,769.1 1283.9,761.9C1284.9,754.7 1285.8,735.0 1286.6,723.5C1287.4,712.0 1288.4,694.1 1289.4,685.0C1290.4,675.9 1292.1,668.6 1293.5,663.1C1294.9,657.6 1297.2,650.5 1299.0,648.0C1300.8,645.5 1304.1,647.6 1305.8,646.6C1307.5,645.6 1308.3,641.4 1310.0,641.2C1311.7,641.0 1314.7,643.2 1316.8,645.3C1318.9,647.4 1322.3,651.4 1323.7,654.9C1325.1,658.4 1325.0,665.5 1326.4,668.6C1327.8,671.7 1331.9,672.9 1333.3,675.4C1334.7,677.9 1334.8,680.7 1336.0,685.0C1337.2,689.3 1339.4,701.0 1341.5,704.3C1343.6,707.6 1347.8,707.4 1349.7,707.0C1351.6,706.6 1352.7,706.9 1353.9,701.5C1355.1,696.1 1356.6,676.8 1358.0,671.3C1359.4,665.8 1362.1,664.5 1363.5,664.5C1364.9,664.5 1366.6,672.3 1367.6,671.3C1368.6,670.3 1368.9,659.9 1370.3,657.6C1371.7,655.3 1375.5,658.0 1377.2,656.2C1378.9,654.4 1379.9,648.6 1381.3,645.3C1382.7,642.0 1385.0,638.2 1386.8,634.3C1388.6,630.4 1391.3,622.1 1393.6,619.2C1395.9,616.3 1399.4,615.9 1401.9,615.1C1404.4,614.3 1408.0,612.5 1410.1,613.7C1412.2,614.9 1413.9,620.4 1415.6,623.3C1417.2,626.2 1419.3,630.8 1421.1,632.9C1422.9,635.0 1426.1,634.1 1427.9,637.0C1429.7,639.9 1431.5,649.2 1433.4,652.1C1435.3,655.0 1438.2,655.5 1440.3,656.2C1442.4,656.9 1445.0,655.7 1447.1,656.9C1449.2,658.1 1451.9,661.5 1454.0,664.5C1456.1,667.5 1459.1,672.5 1460.9,676.8C1462.7,681.1 1464.9,690.4 1466.3,693.3C1467.7,696.2 1468.2,693.7 1470.0,696.0C1471.8,698.3 1475.8,704.2 1478.3,708.4C1480.8,712.6 1484.1,718.7 1486.6,723.7C1489.1,728.7 1492.6,736.6 1494.9,741.7C1497.2,746.8 1500.3,754.7 1501.8,758.0C1503.3,761.3 1503.5,764.2 1505.0,764.0C1506.5,763.8 1508.9,760.0 1511.5,756.9C1514.1,753.8 1520.1,749.3 1522.6,743.1C1525.1,736.9 1526.4,723.1 1528.1,715.4C1529.8,707.7 1531.8,699.1 1533.7,691.8C1535.6,684.5 1538.7,673.9 1540.6,666.9C1542.5,659.9 1544.2,651.0 1546.1,644.8C1548.0,638.6 1550.8,630.6 1553.1,625.4C1555.4,620.2 1558.7,614.0 1561.4,610.1C1564.1,606.2 1568.2,601.2 1571.1,599.1C1574.0,597.0 1578.1,598.0 1580.8,596.3C1583.5,594.6 1586.6,588.4 1589.1,588.0C1591.6,587.6 1595.5,591.0 1597.4,593.5C1599.3,596.0 1600.0,605.0 1601.5,604.6C1603.0,604.2 1605.4,593.5 1607.1,590.8C1608.8,588.1 1610.7,586.6 1612.6,586.6C1614.5,586.6 1617.0,588.7 1619.5,590.8C1622.0,592.9 1626.7,598.2 1629.2,600.5C1631.7,602.8 1633.4,605.0 1636.1,606.0C1638.8,607.0 1644.7,606.2 1647.2,607.4C1649.7,608.6 1651.0,614.9 1652.7,614.3C1654.4,613.7 1656.2,605.7 1658.3,603.2C1660.4,600.7 1664.1,598.1 1666.6,597.7C1669.1,597.3 1672.4,598.8 1674.9,600.5C1677.4,602.2 1680.7,607.4 1683.2,608.8C1685.7,610.2 1689.2,609.1 1691.5,610.1C1693.8,611.1 1695.6,614.0 1698.4,615.7C1701.2,617.4 1708.3,620.4 1710.0,621.2" stroke="#0070e8"/>
<path d="M150.0,859.1C150.2,859.3 150.8,860.7 151.2,860.5C151.6,860.3 152.0,858.1 152.4,857.5C152.8,856.9 153.3,856.4 153.7,856.4C154.1,856.4 154.5,856.9 154.9,857.5C155.3,858.1 155.7,860.3 156.1,860.2C156.5,860.1 156.9,857.0 157.3,857.0C157.7,857.0 158.2,859.4 158.6,860.1C159.0,860.8 159.4,861.7 159.8,861.5C160.2,861.3 160.6,859.1 161.0,858.5C161.4,857.9 161.8,857.8 162.2,857.8C162.6,857.8 163.1,858.0 163.5,858.3C163.9,858.6 164.3,859.3 164.7,859.5C165.1,859.7 165.5,860.0 165.9,859.9C166.3,859.8 166.8,859.1 167.2,859.0C167.6,858.9 168.0,859.5 168.4,859.0C168.8,858.5 169.2,856.1 169.6,855.6C170.0,855.1 170.4,855.9 170.8,856.0C171.2,856.1 171.7,856.0 172.1,856.5C172.5,857.0 172.9,859.4 173.3,859.4C173.7,859.4 174.1,856.9 174.5,856.7C174.9,856.5 175.3,858.5 175.7,858.2C176.1,857.9 176.6,855.3 177.0,854.8C177.4,854.3 177.8,854.9 178.2,855.1C178.6,855.3 179.0,855.8 179.4,856.3C179.8,856.8 180.2,858.2 180.6,858.6C181.0,859.0 181.5,858.7 181.9,858.7C182.3,858.7 182.7,858.7 183.1,858.5C183.5,858.3 183.9,857.8 184.3,857.4C184.7,857.0 185.1,856.1 185.5,856.1C185.9,856.1 186.4,857.3 186.8,857.5C187.2,857.7 187.6,857.2 188.0,857.2C188.4,857.2 188.8,857.5 189.2,857.2C189.6,856.9 190.0,854.7 190.4,855.1C190.8,855.5 191.3,859.7 191.7,859.8C192.1,859.9 192.5,855.5 192.9,855.6C193.3,855.7 193.7,859.6 194.1,860.3C194.5,861.0 194.9,860.9 195.3,860.0C195.7,859.1 196.2,854.9 196.6,854.5C197.0,854.1 197.4,856.5 197.8,857.2C198.2,857.9 198.6,858.8 199.0,859.3C199.4,859.8 199.8,860.5 200.2,860.2C200.6,859.9 201.0,857.7 201.4,857.1C201.8,856.5 202.3,856.2 202.7,856.0C203.1,855.8 203.5,855.1 203.9,855.7C204.3,856.3 204.7,860.1 205.1,860.1C205.5,860.1 205.9,856.0 206.3,855.7C206.7,855.4 207.2,858.0 207.6,857.9C208.0,857.8 208.4,855.4 208.8,855.3C209.2,855.2 209.6,856.8 210.0,857.5C210.4,858.2 210.8,860.4 211.2,860.1C211.6,859.8 212.1,855.3 212.5,855.2C212.9,855.1 213.3,859.0 213.7,859.3C214.1,859.6 214.5,857.4 214.9,857.5C215.3,857.6 215.8,859.5 216.2,859.7C216.6,859.9 217.0,858.9 217.4,858.6C217.8,858.3 218.2,857.9 218.6,857.4C219.0,856.9 219.4,855.3 219.8,855.6C220.2,855.9 220.6,859.2 221.0,859.4C221.4,859.6 221.8,857.6 222.2,856.8C222.6,856.0 223.0,854.4 223.4,853.9C223.8,853.4 224.2,853.2 224.6,853.6C225.0,854.0 225.4,856.0 225.8,856.3C226.2,856.6 226.6,856.1 227.0,855.9C227.4,855.7 227.8,855.2 228.2,854.9C228.6,854.6 229.0,853.7 229.4,853.7C229.8,853.7 230.2,854.7 230.6,854.8C231.0,854.9 231.4,854.0 231.8,854.4C232.2,854.8 232.6,857.7 233.0,857.4C233.4,857.1 233.8,852.3 234.2,852.2C234.6,852.1 235.0,855.8 235.4,856.5C235.8,857.2 236.2,857.5 236.6,856.9C237.0,856.3 237.4,852.4 237.8,852.4C238.2,852.4 238.6,856.6 239.0,857.1C239.4,857.6 239.8,855.7 240.2,855.6C240.6,855.5 241.0,856.8 241.4,856.6C241.8,856.4 242.2,854.6 242.6,854.0C243.0,853.4 243.4,852.9 243.8,852.8C244.2,852.7 244.6,853.3 245.0,853.4C245.4,853.5 245.8,853.0 246.2,853.6C246.6,854.2 247.0,857.1 247.4,857.3C247.8,857.5 248.2,855.5 248.6,855.0C249.0,854.5 249.4,853.8 249.8,853.7C250.2,853.6 250.6,854.3 251.0,854.2C251.4,854.1 251.8,853.6 252.2,853.3C252.6,853.0 253.0,852.2 253.4,852.1C253.8,852.0 254.2,851.8 254.6,852.5C255.0,853.2 255.4,856.7 255.8,856.9C256.2,857.1 256.6,853.6 257.0,853.7C257.4,853.8 257.8,857.7 258.2,857.7C258.6,857.7 259.0,854.3 259.4,853.7C259.8,853.1 260.2,853.6 260.6,853.9C261.0,854.2 261.4,855.4 261.8,855.4C262.2,855.4 262.6,853.7 263.0,853.6C263.4,853.5 263.8,854.1 264.2,854.8C264.6,855.5 265.0,858.3 265.4,858.4C265.8,858.5 266.2,855.7 266.6,855.7C267.0,855.7 267.4,857.8 267.8,858.1C268.2,858.4 268.6,857.9 269.0,857.7C269.4,857.5 269.8,856.5 270.2,856.6C270.6,856.7 271.0,858.1 271.4,858.4C271.8,858.7 272.2,858.9 272.6,858.6C273.0,858.3 273.4,856.5 273.8,856.3C274.2,856.1 274.6,857.8 275.0,857.4C275.4,857.0 275.8,853.4 276.2,853.4C276.6,853.4 277.1,857.2 277.5,857.6C277.9,858.0 278.3,855.9 278.7,855.9C279.1,855.9 279.5,857.6 279.9,857.8C280.3,858.0 280.7,857.6 281.1,857.2C281.5,856.8 281.9,855.6 282.3,855.1C282.7,854.6 283.1,853.1 283.5,853.7C283.9,854.3 284.3,859.0 284.7,859.1C285.1,859.2 285.5,854.7 285.9,854.3C286.3,853.9 286.7,856.2 287.1,856.6C287.5,857.0 287.9,856.9 288.3,856.9C288.7,856.9 289.1,856.7 289.5,856.7C289.9,856.7 290.3,856.4 290.7,856.9C291.1,857.4 291.5,859.3 291.9,860.1C292.3,860.9 292.7,862.3 293.1,862.0C293.5,861.7 294.0,858.3 294.4,858.2C294.8,858.1 295.2,860.9 295.6,861.1C296.0,861.3 296.4,859.4 296.8,859.5C297.2,859.6 297.6,861.2 298.0,861.5C298.4,861.8 298.8,861.7 299.2,861.7C299.6,861.7 300.0,861.5 300.4,861.2C300.8,860.9 301.3,860.2 301.7,860.0C302.1,859.8 302.5,860.0 302.9,860.1C303.3,860.2 303.8,859.9 304.2,860.6C304.6,861.3 305.0,864.6 305.4,864.9C305.8,865.2 306.3,863.2 306.7,862.6C307.1,862.0 307.5,860.7 307.9,861.1C308.3,861.5 308.8,864.6 309.2,865.4C309.6,866.1 310.0,866.5 310.4,866.1C310.8,865.7 311.3,863.3 311.7,862.9C312.1,862.5 312.5,863.6 312.9,863.4C313.3,863.2 313.7,861.9 314.1,861.8C314.5,861.7 314.9,862.7 315.3,862.8C315.7,862.9 316.1,862.4 316.5,862.7C316.9,863.0 317.3,864.7 317.7,864.9C318.1,865.1 318.5,863.8 318.9,863.9C319.3,864.0 319.7,865.1 320.1,865.4C320.5,865.7 320.9,865.7 321.3,866.2C321.7,866.7 322.1,867.9 322.5,868.6C322.9,869.3 323.3,871.0 323.7,871.1C324.1,871.2 324.5,869.4 324.9,869.4C325.3,869.4 325.8,871.2 326.2,871.2C326.6,871.2 327.1,869.7 327.5,869.5C327.9,869.3 328.4,869.7 328.8,869.9C329.2,870.1 329.6,870.7 330.0,870.8C330.4,870.9 330.9,870.4 331.3,870.3C331.7,870.2 332.2,870.6 332.6,870.4C333.0,870.2 333.5,868.8 333.9,869.0C334.3,869.2 331.9,871.5 335.2,872.0C338.5,872.5 348.8,871.7 355.7,872.0C362.6,872.3 374.2,873.3 381.4,873.7C388.6,874.1 398.6,874.5 403.7,874.6C408.8,874.7 411.3,875.0 415.7,874.6C420.1,874.2 429.3,872.5 432.9,872.0C436.5,871.5 436.5,871.5 440.0,871.0C443.5,870.5 450.0,869.6 456.0,868.8C462.0,868.0 474.0,866.7 480.0,865.6C486.0,864.5 490.0,862.1 496.0,861.6C502.0,861.1 510.4,862.8 520.0,862.4C529.6,862.0 550.4,860.4 560.0,859.2C569.6,858.0 576.8,855.7 584.0,854.4C591.2,853.1 603.2,850.8 608.0,850.4C612.8,850.0 613.6,850.1 616.0,852.0C618.4,853.9 621.6,860.7 624.0,863.2C626.4,865.7 629.8,869.5 632.0,868.8C634.2,868.1 636.2,859.6 638.4,858.4C640.6,857.2 643.0,862.0 646.4,860.8C649.8,859.6 656.7,852.0 660.8,850.4C664.9,848.8 669.5,852.1 673.6,850.4C677.7,848.7 684.0,841.3 688.0,839.2C692.0,837.1 696.1,837.3 700.0,836.7C703.9,836.1 710.1,836.3 713.7,835.0C717.3,833.7 717.8,829.6 724.0,828.1C730.2,826.6 748.7,825.9 754.9,824.7C761.1,823.5 757.9,821.8 765.1,820.4C772.3,819.0 789.5,816.6 802.9,815.3C816.3,814.0 840.2,813.1 854.3,811.9C868.4,810.7 889.0,806.4 897.2,807.6C905.4,808.8 906.4,819.5 909.2,819.6C912.0,819.7 914.2,809.2 916.0,808.4C917.8,807.6 919.1,814.9 921.2,814.4C923.3,813.9 923.0,806.8 929.7,805.0C936.4,803.2 955.2,803.0 965.7,802.4C976.2,801.8 993.1,801.0 1000.0,800.7C1006.9,800.4 1004.2,800.9 1012.0,800.4C1019.8,799.9 1041.2,798.2 1052.0,797.2C1062.8,796.2 1073.2,794.8 1084.0,794.0C1094.8,793.2 1113.2,791.8 1124.0,791.6C1134.8,791.4 1147.6,791.8 1156.0,792.4C1164.4,793.0 1174.0,794.2 1180.0,795.6C1186.0,797.0 1191.7,799.8 1196.0,802.0C1200.3,804.2 1205.7,807.6 1208.8,810.0C1211.9,812.4 1214.4,814.4 1216.8,818.0C1219.2,821.6 1221.9,829.4 1224.8,834.0C1227.7,838.6 1233.1,845.0 1236.0,848.4C1238.9,851.8 1241.6,853.0 1244.0,856.4C1246.4,859.8 1249.5,867.2 1252.0,870.8C1254.5,874.4 1258.3,877.4 1260.6,880.7C1262.9,884.0 1265.3,889.6 1267.4,893.1C1269.5,896.6 1272.4,900.9 1274.3,904.0C1276.2,907.1 1278.4,913.0 1279.8,913.6C1281.2,914.2 1282.9,914.7 1283.9,908.1C1284.9,901.5 1285.6,879.2 1286.6,869.7C1287.6,860.2 1289.4,850.3 1290.8,845.0C1292.2,839.7 1294.4,837.2 1296.2,834.1C1298.0,831.0 1300.8,826.4 1303.1,824.5C1305.4,822.6 1308.6,821.5 1311.3,821.7C1314.0,821.9 1318.6,823.3 1320.9,825.8C1323.2,828.3 1324.5,835.1 1326.4,838.2C1328.3,841.3 1331.4,843.3 1333.3,846.4C1335.2,849.5 1336.7,856.3 1338.8,858.8C1340.9,861.3 1344.7,862.7 1347.0,862.9C1349.3,863.1 1352.1,863.6 1353.9,860.1C1355.7,856.6 1358.1,843.9 1359.3,839.6C1360.5,835.3 1360.9,831.7 1362.1,831.3C1363.3,830.9 1366.2,837.2 1367.6,836.8C1369.0,836.4 1370.3,829.6 1371.7,828.6C1373.1,827.6 1376.0,831.2 1377.2,830.0C1378.4,828.8 1377.8,823.9 1379.9,820.4C1382.0,816.9 1388.2,809.5 1390.9,806.6C1393.6,803.7 1394.8,802.6 1397.7,801.2C1400.6,799.8 1407.4,796.6 1410.1,797.0C1412.8,797.4 1413.9,802.5 1415.6,803.9C1417.2,805.3 1419.3,807.4 1421.1,806.6C1422.9,805.8 1425.8,800.2 1427.9,798.4C1430.0,796.6 1432.1,795.3 1434.8,794.3C1437.5,793.3 1442.9,791.8 1445.8,791.6C1448.7,791.4 1451.7,791.9 1454.0,792.9C1456.3,793.9 1458.8,796.1 1460.9,798.4C1463.0,800.7 1465.9,805.9 1467.7,808.0C1469.5,810.1 1471.6,811.1 1473.2,812.1C1474.8,813.1 1476.3,813.3 1478.3,815.0C1480.3,816.7 1483.3,821.8 1486.6,823.3C1489.9,824.8 1496.2,825.3 1500.4,824.7C1504.6,824.1 1511.0,818.3 1514.3,819.1C1517.6,819.9 1520.5,831.0 1522.6,830.2C1524.7,829.4 1526.0,817.3 1528.1,813.6C1530.2,809.9 1533.5,808.4 1536.4,805.3C1539.3,802.2 1544.1,797.0 1547.4,792.9C1550.7,788.8 1555.6,781.4 1558.5,777.7C1561.4,774.0 1563.5,769.9 1566.8,768.0C1570.1,766.1 1577.3,766.0 1580.6,765.2C1583.9,764.4 1586.6,762.0 1588.9,762.4C1591.2,762.8 1593.9,765.1 1595.8,768.0C1597.7,770.9 1599.7,782.2 1601.4,781.8C1603.1,781.4 1604.8,767.9 1606.9,765.2C1609.0,762.5 1611.9,763.6 1615.2,763.8C1618.5,764.0 1624.4,766.0 1629.0,766.6C1633.6,767.2 1641.9,765.9 1645.6,768.0C1649.3,770.1 1651.2,780.0 1653.9,780.4C1656.6,780.8 1660.9,772.2 1663.6,770.7C1666.3,769.2 1669.0,769.2 1671.9,770.7C1674.8,772.2 1679.7,778.9 1683.0,780.4C1686.3,781.9 1691.5,780.8 1694.0,780.4C1696.5,780.0 1697.2,776.7 1699.6,777.7C1702.0,778.7 1708.4,785.9 1710.0,787.3" stroke="#ff3a3a"/>
<path d="M150.0,986.6C150.2,986.5 150.8,986.1 151.2,986.2C151.6,986.3 152.0,987.4 152.4,987.4C152.8,987.4 153.3,986.0 153.7,985.9C154.1,985.8 154.5,986.5 154.9,986.6C155.3,986.7 155.7,986.7 156.1,986.8C156.5,986.9 156.9,987.4 157.3,987.3C157.7,987.2 158.2,986.3 158.6,986.1C159.0,985.9 159.4,986.2 159.8,986.2C160.2,986.2 160.6,986.1 161.0,986.1C161.4,986.1 161.8,986.3 162.2,986.4C162.6,986.5 163.1,986.4 163.5,986.5C163.9,986.6 164.3,987.3 164.7,987.4C165.1,987.5 165.5,987.2 165.9,987.2C166.3,987.2 166.8,987.5 167.2,987.3C167.6,987.1 168.0,985.9 168.4,985.7C168.8,985.5 169.2,985.6 169.6,985.8C170.0,986.0 170.4,986.8 170.8,987.0C171.2,987.2 171.7,987.4 172.1,987.3C172.5,987.2 172.9,986.7 173.3,986.6C173.7,986.5 174.1,986.9 174.5,986.8C174.9,986.7 175.3,985.8 175.7,985.7C176.1,985.6 176.6,986.1 177.0,986.4C177.4,986.7 177.8,987.3 178.2,987.4C178.6,987.5 179.0,987.2 179.4,987.2C179.8,987.2 180.2,987.2 180.6,987.2C181.0,987.2 181.5,987.7 181.9,987.5C182.3,987.3 182.7,986.2 183.1,986.1C183.5,986.0 183.9,986.6 184.3,986.6C184.7,986.6 185.1,986.0 185.5,985.9C185.9,985.8 186.4,985.9 186.8,986.0C187.2,986.1 187.6,986.5 188.0,986.6C188.4,986.7 188.8,986.8 189.2,986.9C189.6,987.0 190.0,987.4 190.4,987.4C190.8,987.4 191.3,987.1 191.7,987.0C192.1,986.9 192.5,986.9 192.9,986.9C193.3,986.9 193.7,987.2 194.1,987.1C194.5,987.0 194.9,986.6 195.3,986.5C195.7,986.4 196.2,986.8 196.6,986.7C197.0,986.6 197.4,985.7 197.8,985.8C198.2,985.9 198.6,987.1 199.0,987.1C199.4,987.1 199.8,986.1 200.2,986.1C200.6,986.1 201.0,987.3 201.4,987.4C201.8,987.5 202.3,987.1 202.7,986.9C203.1,986.7 203.5,986.4 203.9,986.2C204.3,986.1 204.7,985.9 205.1,985.9C205.5,985.9 205.9,986.1 206.3,986.2C206.7,986.3 207.2,986.7 207.6,986.8C208.0,986.9 208.4,987.1 208.8,987.0C209.2,986.9 209.6,986.1 210.0,985.9C210.4,985.7 210.8,985.7 211.2,985.8C211.6,985.9 212.1,986.5 212.5,986.6C212.9,986.7 213.3,986.7 213.7,986.7C214.1,986.7 214.5,986.5 214.9,986.4C215.3,986.3 215.8,986.0 216.2,986.1C216.6,986.2 217.0,986.7 217.4,986.8C217.8,986.9 218.2,986.8 218.6,986.6C219.0,986.4 219.4,985.8 219.8,985.7C220.2,985.6 220.6,986.1 221.0,986.2C221.4,986.3 221.8,986.2 222.2,986.4C222.6,986.6 223.1,987.3 223.5,987.3C223.9,987.3 224.3,986.7 224.7,986.7C225.1,986.7 225.5,987.1 225.9,987.1C226.3,987.1 226.7,986.6 227.1,986.4C227.5,986.2 227.9,986.0 228.3,985.9C228.7,985.8 229.1,985.7 229.5,985.9C229.9,986.1 230.4,987.0 230.8,987.1C231.2,987.2 231.6,986.8 232.0,986.6C232.4,986.4 232.8,986.1 233.2,985.9C233.6,985.7 234.0,985.4 234.4,985.4C234.8,985.4 235.2,986.0 235.6,986.2C236.0,986.4 236.4,986.5 236.8,986.5C237.2,986.5 237.7,986.1 238.1,986.0C238.5,985.9 238.9,985.6 239.3,985.7C239.7,985.8 240.1,986.2 240.5,986.4C240.9,986.6 241.3,986.9 241.7,986.8C242.1,986.7 242.5,985.7 242.9,985.5C243.3,985.3 243.7,985.2 244.1,985.2C244.5,985.2 245.0,985.6 245.4,985.7C245.8,985.8 246.2,985.7 246.6,985.8C247.0,985.9 247.4,986.3 247.8,986.2C248.2,986.1 248.6,985.3 249.0,985.3C249.4,985.3 249.8,986.3 250.2,986.4C250.6,986.5 251.0,986.3 251.4,986.2C251.8,986.1 252.3,985.9 252.7,985.8C253.1,985.6 253.5,985.1 253.9,985.2C254.3,985.3 254.7,986.5 255.1,986.6C255.5,986.7 255.9,985.8 256.3,985.7C256.7,985.6 257.1,985.6 257.5,985.8C257.9,986.0 258.4,987.0 258.8,987.1C259.2,987.2 259.6,986.4 260.0,986.4C260.4,986.4 259.8,986.3 261.3,986.8C262.8,987.3 266.1,989.1 270.0,990.0C273.9,990.9 282.5,990.9 287.1,992.6C291.7,994.3 297.0,998.3 300.9,1001.1C304.8,1003.9 308.5,1007.3 312.9,1011.4C317.3,1015.5 324.9,1023.7 330.0,1028.6C335.1,1033.5 342.1,1039.6 347.2,1044.0C352.3,1048.4 359.2,1053.6 364.3,1057.7C369.4,1061.8 376.3,1067.9 381.4,1071.4C386.5,1074.9 394.0,1079.2 398.6,1080.9C403.2,1082.6 408.4,1082.7 412.3,1082.6C416.2,1082.5 419.9,1081.9 424.3,1080.0C428.7,1078.1 436.6,1073.1 441.4,1069.7C446.2,1066.3 451.4,1060.4 456.0,1057.6C460.6,1054.8 464.8,1053.6 472.0,1051.2C479.2,1048.8 494.4,1044.7 504.0,1041.6C513.6,1038.5 527.6,1033.4 536.0,1030.4C544.4,1027.4 552.8,1023.8 560.0,1021.6C567.2,1019.4 576.8,1017.4 584.0,1016.0C591.2,1014.6 603.0,1012.2 608.0,1012.0C613.0,1011.8 615.2,1013.1 617.6,1014.4C620.0,1015.7 621.8,1018.6 624.0,1020.8C626.2,1023.0 629.8,1029.3 632.0,1028.8C634.2,1028.3 636.5,1018.9 638.4,1017.6C640.3,1016.3 641.2,1022.4 644.8,1020.0C648.4,1017.6 658.3,1004.0 662.4,1001.6C666.5,999.2 668.6,1005.6 672.0,1004.0C675.4,1002.4 681.2,993.5 684.8,991.2C688.4,988.9 691.7,989.2 696.0,988.8C700.3,988.4 709.5,989.9 713.7,988.4C717.9,986.9 717.8,980.8 724.0,979.0C730.2,977.2 749.0,977.8 754.9,976.4C760.8,975.0 756.2,971.5 763.4,969.6C770.6,967.7 789.3,965.3 802.9,963.6C816.5,961.9 839.9,959.7 854.3,958.4C868.7,957.1 891.2,954.5 898.9,955.0C906.6,955.5 903.6,959.6 905.7,961.9C907.8,964.2 910.8,970.7 912.6,970.4C914.4,970.1 915.6,960.7 917.7,960.1C919.8,959.5 922.4,966.9 926.3,966.1C930.2,965.3 937.5,957.4 943.4,955.0C949.3,952.6 960.2,950.9 965.7,949.9C971.2,948.9 973.1,948.9 980.0,948.5C986.9,948.1 1001.2,947.4 1012.0,947.0C1022.8,946.6 1041.2,946.3 1052.0,945.6C1062.8,944.9 1073.2,943.1 1084.0,942.4C1094.8,941.7 1110.8,940.9 1124.0,940.8C1137.2,940.7 1161.2,940.8 1172.0,941.6C1182.8,942.4 1190.7,944.6 1196.0,946.4C1201.3,948.2 1203.8,951.1 1207.2,953.6C1210.6,956.1 1215.5,959.8 1218.4,963.2C1221.3,966.6 1223.8,971.7 1226.4,976.0C1229.0,980.3 1233.6,987.0 1236.0,992.0C1238.4,997.0 1240.8,1003.4 1242.4,1009.6C1244.0,1015.8 1245.6,1026.7 1246.9,1033.3C1248.2,1039.9 1249.6,1048.1 1251.0,1053.9C1252.4,1059.7 1254.7,1067.0 1256.5,1071.7C1258.3,1076.4 1261.2,1080.9 1263.3,1085.4C1265.4,1089.9 1267.9,1097.2 1270.2,1101.9C1272.5,1106.6 1276.3,1115.6 1278.4,1117.0C1280.5,1118.4 1282.7,1119.5 1283.9,1111.5C1285.1,1103.5 1285.6,1077.3 1286.6,1063.5C1287.6,1049.7 1289.6,1029.5 1290.8,1019.6C1292.0,1009.7 1293.5,1002.7 1294.9,997.6C1296.3,992.5 1298.6,987.6 1300.4,985.3C1302.2,983.0 1305.1,982.3 1307.2,982.5C1309.3,982.7 1311.8,983.9 1314.1,986.6C1316.4,989.3 1320.5,996.7 1322.3,1000.4C1324.1,1004.1 1325.0,1008.2 1326.4,1011.3C1327.8,1014.4 1330.5,1018.2 1331.9,1020.9C1333.3,1023.6 1334.6,1024.9 1336.0,1029.2C1337.4,1033.5 1339.4,1045.6 1341.5,1049.7C1343.6,1053.8 1347.8,1056.4 1349.7,1056.6C1351.6,1056.8 1352.7,1056.2 1353.9,1051.1C1355.1,1046.0 1356.8,1029.1 1358.0,1022.3C1359.2,1015.5 1360.9,1007.6 1362.1,1005.8C1363.3,1004.0 1365.0,1010.8 1366.2,1010.0C1367.4,1009.2 1368.6,1001.4 1370.3,1000.4C1372.0,999.4 1376.0,1004.5 1377.2,1003.1C1378.4,1001.7 1377.3,994.3 1378.5,990.8C1379.7,987.3 1383.5,983.3 1385.4,979.8C1387.3,976.3 1389.2,970.3 1390.9,967.4C1392.6,964.5 1394.3,961.7 1396.4,960.6C1398.5,959.5 1402.3,959.3 1404.6,959.9C1406.9,960.5 1409.6,960.7 1411.5,964.7C1413.4,968.7 1415.4,981.7 1417.0,986.6C1418.6,991.5 1420.8,992.2 1422.4,997.6C1424.0,1003.0 1426.7,1015.9 1427.9,1022.3C1429.1,1028.7 1429.9,1034.3 1430.7,1040.1C1431.5,1045.9 1432.4,1054.3 1433.4,1060.7C1434.4,1067.1 1436.1,1078.2 1437.5,1082.7C1438.9,1087.2 1440.9,1088.2 1443.0,1090.9C1445.1,1093.6 1448.7,1096.2 1451.2,1100.5C1453.7,1104.8 1457.1,1112.8 1459.9,1119.8C1462.7,1126.8 1466.5,1139.8 1469.8,1147.5C1473.1,1155.2 1478.3,1165.3 1481.6,1171.2C1484.9,1177.1 1488.2,1181.5 1491.5,1187.1C1494.8,1192.7 1500.7,1205.0 1503.4,1208.8C1506.1,1212.6 1507.5,1212.5 1509.3,1212.3C1511.1,1212.1 1512.9,1210.7 1515.3,1207.5C1517.7,1204.3 1522.4,1198.5 1525.1,1191.0C1527.8,1183.5 1531.0,1168.4 1533.1,1157.4C1535.2,1146.4 1537.2,1129.8 1539.0,1117.9C1540.8,1106.0 1543.1,1089.3 1544.9,1078.3C1546.7,1067.3 1549.3,1053.0 1550.8,1044.7C1552.3,1036.4 1553.0,1027.6 1554.8,1022.9C1556.6,1018.2 1560.0,1016.4 1562.7,1013.1C1565.4,1009.8 1569.9,1005.1 1572.6,1001.2C1575.3,997.3 1578.1,991.8 1580.5,987.3C1582.9,982.8 1586.0,974.8 1588.4,971.5C1590.8,968.2 1594.2,965.9 1596.3,965.6C1598.4,965.3 1600.8,971.6 1602.3,969.5C1603.8,967.4 1604.4,955.1 1606.2,951.8C1608.0,948.5 1612.0,947.5 1614.1,947.8C1616.2,948.1 1618.0,950.1 1620.1,953.7C1622.2,957.3 1625.3,966.5 1628.0,971.5C1630.7,976.5 1634.9,985.8 1637.9,987.3C1640.9,988.8 1645.3,982.6 1647.7,981.4C1650.1,980.2 1652.5,981.8 1653.7,979.4C1654.9,977.0 1654.2,969.7 1655.7,965.6C1657.2,961.5 1661.2,954.5 1663.6,951.8C1666.0,949.1 1668.8,947.8 1671.5,947.8C1674.2,947.8 1679.0,950.6 1681.4,951.8C1683.8,953.0 1684.6,955.4 1687.3,955.7C1690.0,956.0 1696.5,953.1 1699.2,953.7C1701.9,954.3 1703.5,958.2 1705.1,959.7C1706.7,961.2 1709.3,963.4 1710.0,964.0" stroke="#4d4d4d"/>
</g>
<!-- highlight lines -->
<g>
<polygon points="406.6,32 415.4,32 408.4,1286 399.6,1286" fill="#fcf4a0"/>
<polygon points="1497.8,38 1506.4,38 1514.2,1282 1505.6,1282" fill="#fcf4a0"/>
</g>
<!-- dashed box -->
<g fill="#000">
<rect x="571.4" y="110.3" width="25.6" height="5.2"/>
<rect x="620.1" y="110.3" width="25.6" height="5.2"/>
<rect x="668.9" y="110.3" width="25.6" height="5.2"/>
<rect x="717.6" y="110.3" width="25.6" height="5.2"/>
<rect x="766.4" y="110.3" width="25.6" height="5.2"/>
<rect x="815.1" y="110.3" width="25.6" height="5.2"/>
<rect x="863.9" y="110.3" width="25.6" height="5.2"/>
<rect x="912.6" y="110.3" width="25.6" height="5.2"/>
<rect x="961.4" y="110.3" width="25.6" height="5.2"/>
<rect x="571.4" y="110.3" width="5.4" height="25.0"/>
<rect x="571.4" y="159.1" width="5.4" height="25.0"/>
<rect x="571.4" y="207.8" width="5.4" height="25.0"/>
<rect x="571.4" y="256.6" width="5.4" height="25.0"/>
<rect x="571.4" y="305.3" width="5.4" height="25.0"/>
<rect x="571.4" y="354.1" width="5.4" height="25.0"/>
<rect x="571.4" y="402.8" width="5.4" height="25.0"/>
<rect x="571.4" y="451.6" width="5.4" height="25.0"/>
<rect x="571.4" y="500.3" width="5.4" height="23.3"/>
<rect x="992.9" y="127.2" width="5.4" height="24.5"/>
<rect x="992.9" y="175.9" width="5.4" height="24.5"/>
<rect x="992.9" y="224.7" width="5.4" height="24.5"/>
<rect x="992.9" y="273.4" width="5.4" height="24.5"/>
<rect x="992.9" y="322.2" width="5.4" height="24.5"/>
<rect x="992.9" y="370.9" width="5.4" height="24.5"/>
<rect x="992.9" y="419.7" width="5.4" height="24.5"/>
<rect x="992.9" y="468.4" width="5.4" height="24.5"/>
<rect x="992.9" y="516.0" width="5.4" height="4.0"/>
<rect x="585.7" y="518.4" width="24.5" height="5.2"/>
<rect x="634.5" y="518.4" width="24.5" height="5.2"/>
<rect x="683.2" y="518.4" width="24.5" height="5.2"/>
<rect x="732.0" y="518.4" width="24.5" height="5.2"/>
<rect x="780.7" y="518.4" width="24.5" height="5.2"/>
<rect x="829.5" y="518.4" width="24.5" height="5.2"/>
<rect x="878.2" y="518.4" width="24.5" height="5.2"/>
<rect x="927.0" y="518.4" width="24.5" height="5.2"/>
<rect x="975.7" y="518.4" width="22.6" height="5.2"/>
</g>
<polygon points="645.6,110.5 655,110.5 656.6,512.5 647.2,512.5" fill="#fdd6b8"/>
<polygon points="681.1,112.4 689.5,112.4 690.8,519 682.4,519" fill="#fdd6b8"/>
<!-- arrows -->
<g stroke="#000" stroke-width="1.7" fill="none">
<line x1="597.5" y1="98.2" x2="621" y2="131"/>
<line x1="731.4" y1="493.8" x2="744.3" y2="518.7"/>
</g>
<g fill="#000">
<polygon points="613.5,134.3 626.3,125.4 638.6,155.6"/>
<polygon points="713.8,464.7 737.4,488.9 724,496.1"/>
</g>
<!-- frame -->
<g fill="#000">
<rect x="145.2" y="28" width="1568.3" height="9.2"/>
<rect x="145.2" y="1283.6" width="1568.3" height="8.8"/>
<rect x="145.2" y="28" width="9.3" height="1284.4"/>
<rect x="1704.4" y="28" width="9.1" height="1264.4"/>
<rect x="610.4" y="1290" width="9.8" height="22.4"/>
<rect x="1076.1" y="1290" width="9.6" height="22.4"/>
<rect x="1541.6" y="1290" width="9.6" height="22.4"/>
</g>
<rect x="406.9" y="33.6" width="8.4" height="4.6" fill="#fcf4a0"/>
<rect x="399.7" y="1282.6" width="8.6" height="3.4" fill="#fcf4a0"/>
<!-- tick labels -->
<g font-size="60" fill="#000" text-anchor="middle">
<text x="149.5" y="1375">4000</text>
<text x="615.2" y="1375">3000</text>
<text x="1080.6" y="1375">2000</text>
<text x="1548.5" y="1375">1000</text>
</g>
<text font-size="64" font-weight="bold"><tspan x="663.6" y="1482">Wavenumber (cm</tspan><tspan x="1150.2" y="1463.2" font-size="48">&#8722;</tspan><tspan x="1177" y="1462" font-size="42">1</tspan><tspan x="1196" y="1481">)</tspan></text>
<text transform="translate(58,627.5) rotate(-90)" font-size="64" font-weight="bold" text-anchor="middle">Transmittance (%)</text>
<!-- curve labels -->
<g font-size="60">
<text x="164" y="175" fill="#c476e4">a</text>
<text x="169" y="354" fill="#00b06a">b</text>
<text x="163" y="623" fill="#0070e8">c</text>
<text x="170" y="816" fill="#ff3a3a">d</text>
<text x="165" y="965" fill="#4d4d4d">e</text>
</g>
<!-- annotations -->
<g font-size="48" fill="#000">
<text y="88.6"><tspan x="569.4">C</tspan><tspan x="601.6">-</tspan><tspan x="616.9">H</tspan><tspan x="650.6" y="87.4" font-size="60">(</tspan><tspan x="670.9" y="88.6">-</tspan><tspan x="685.9">C</tspan><tspan x="718.3">H</tspan><tspan x="752.3" y="103.6">3</tspan><tspan x="775" y="87" font-size="60">)</tspan></text>
<text y="568.6"><tspan x="696.6">C</tspan><tspan x="728.7">-</tspan><tspan x="744.7">H</tspan><tspan x="778.7" y="568.7" font-size="55">(</tspan><tspan x="795.9" y="568.6">-</tspan><tspan x="811.6">C</tspan><tspan x="844.7">H</tspan><tspan x="877.3" y="582.9">2</tspan><tspan x="900.9" y="568.6">-</tspan><tspan x="915.9" y="568">)</tspan></text>
</g>
</svg>
</body></html>
